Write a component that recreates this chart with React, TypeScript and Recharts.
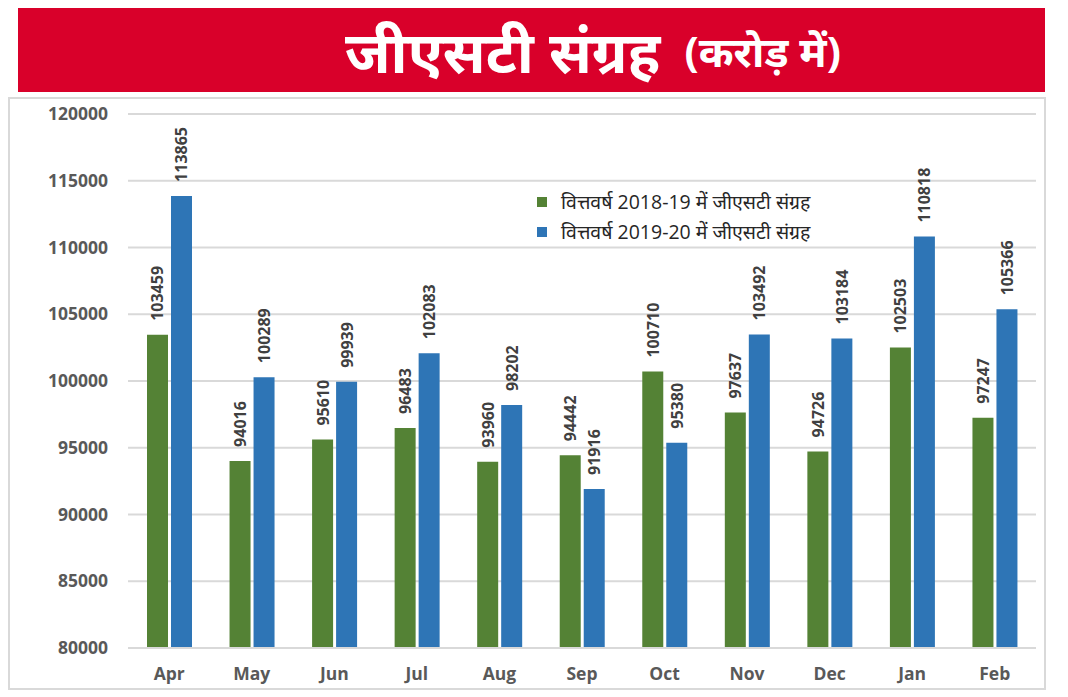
import { BarChart, Bar, XAxis, YAxis, CartesianGrid, LabelList } from "recharts";

const months = ["Apr", "May", "Jun", "Jul", "Aug", "Sep", "Oct", "Nov", "Dec", "Jan", "Feb"];
const fy1819 = [103459, 94016, 95610, 96483, 93960, 94442, 100710, 97637, 94726, 102503, 97247];
const fy1920 = [113865, 100289, 99939, 102083, 98202, 91916, 95380, 103492, 103184, 110818, 105366];
const yTicks = [80000, 85000, 90000, 95000, 100000, 105000, 110000, 115000, 120000];

const series = [
  { key: "fy1819", name: "वित्तवर्ष 2018-19 में जीएसटी संग्रह", color: "#548235" },
  { key: "fy1920", name: "वित्तवर्ष 2019-20 में जीएसटी संग्रह", color: "#2E75B6" },
];

const data = months.map((m, i) => ({ month: m, fy1819: fy1819[i], fy1920: fy1920[i] }));

const font = "'Open Sans', 'Noto Sans', sans-serif";

function VerticalLabel(props: any) {
  const { x, y, width, value } = props;
  const cx = x + width / 2;
  const ty = y - 14;
  return (
    <text
      x={cx}
      y={ty}
      transform={`rotate(-90, ${cx}, ${ty})`}
      textAnchor="start"
      dominantBaseline="central"
      fontSize={16}
      fontWeight={700}
      fill="#404040"
      fontFamily={font}
    >
      {value}
    </text>
  );
}

function LegendBox() {
  return (
    <div style={{ fontFamily: font, fontSize: 19.5, color: "#262626", lineHeight: "30px" }}>
      {series.map((s) => (
        <div key={s.key} style={{ display: "flex", alignItems: "center" }}>
          <span style={{ width: 10, height: 10, background: s.color, display: "inline-block", marginRight: 14 }} />
          <span>{s.name}</span>
        </div>
      ))}
    </div>
  );
}

export default function App() {
  return (
    <div style={{ position: "absolute", left: 0, top: 0, width: 1068, height: 697, background: "#fff", fontFamily: font }}>
      <div
        style={{
          position: "absolute",
          left: 18,
          top: 8,
          width: 1027,
          height: 84,
          background: "#D9002A",
          color: "#fff",
          fontWeight: 700,
          display: "flex",
          alignItems: "center",
        }}
      >
        <span style={{ marginLeft: 327, fontSize: 58 }}>जीएसटी संग्रह</span>
        <span style={{ marginLeft: 24, fontSize: 42 }}>(करोड़ में)</span>
      </div>
      <div
        style={{
          position: "absolute",
          left: 8,
          top: 97,
          width: 1034,
          height: 589,
          border: "2px solid #d9d9d9",
        }}
      />
      <div style={{ position: "absolute", left: 8, top: 97 }}>
        <BarChart
          width={1038}
          height={593}
          data={data}
          margin={{ top: 17, right: 10, left: 20, bottom: 12 }}
          barCategoryGap={19}
          barGap={3}
        >
          <CartesianGrid vertical={false} stroke="#d9d9d9" strokeWidth={2} />
          <XAxis
            dataKey="month"
            height={30}
            tickSize={0}
            tickMargin={20}
            axisLine={{ stroke: "#d9d9d9", strokeWidth: 2 }}
            tick={{ fill: "#595959", fontSize: 17.5, fontWeight: 700, fontFamily: font }}
          />
          <YAxis
            domain={[80000, 120000]}
            ticks={yTicks}
            width={100}
            tickSize={0}
            tickMargin={20}
            axisLine={false}
            tick={{ fill: "#595959", fontSize: 17.5, fontWeight: 700, fontFamily: font }}
          />
          {series.map((s) => (
            <Bar key={s.key} dataKey={s.key} name={s.name} fill={s.color} isAnimationActive={false}>
              <LabelList dataKey={s.key} content={<VerticalLabel />} />
            </Bar>
          ))}
        </BarChart>
      </div>
      <div style={{ position: "absolute", left: 537, top: 187 }}>
        <LegendBox />
      </div>
    </div>
  );
}
